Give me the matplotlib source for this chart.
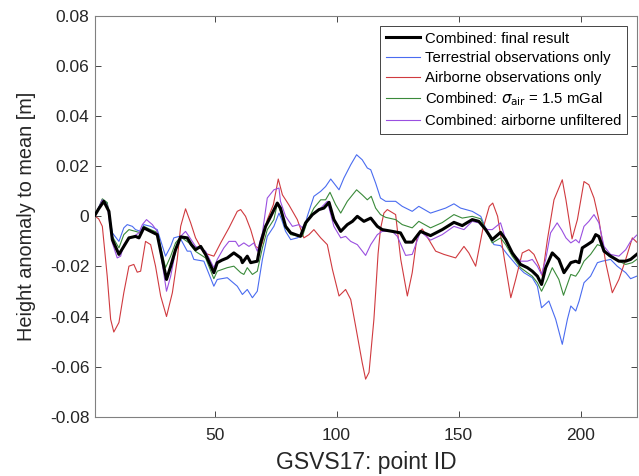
import matplotlib
matplotlib.use('Agg')
import matplotlib.pyplot as plt
import numpy as np

# height anomalies, in mm
final_x = [1, 2.5, 4.6, 6.7, 8.1, 10.8, 12.8, 14.9, 17.6, 19,
           21, 23.8, 26.5, 28.6, 30.3, 32, 34, 36.1, 38.8, 40.5,
           42.2, 44.3, 46.3, 49.7, 51.1, 53, 55.2, 57.9, 60.7, 61.4,
           63.4, 64.8, 67.5, 68.9, 70.9, 73, 75.7, 77, 79.1, 81.2,
           83.2, 85.2, 87.3, 90.1, 92.8, 94.8, 96.9, 98.9, 101.7, 104.4,
           106.5, 108.5, 111.2, 114, 116.7, 118.7, 122.8, 126.2, 128.3, 131,
           134.4, 138.5, 143.3, 148.1, 151.5, 155.6, 158.3, 161.1, 163.8, 167.2,
           169.3, 172, 175.4, 178.2, 180.2, 182.3, 184, 185.7, 188.4, 191.1,
           193.2, 196, 198, 199.4, 200.7, 202.8, 204.8, 206.2, 207.5, 209.6,
           212.3, 215.7, 218.5, 220.5, 223]
final_mm = [0.5, 3, 6, 2, -9.3, -15.2, -12, -8.6, -8, -8.6,
            -4.6, -6, -7.3, -17.2, -25.2, -20, -13.3, -8.2, -8.6, -11.3,
            -13.3, -12, -15.2, -22.5, -18.5, -17.5, -16.6, -14.6, -16.6, -18.5,
            -15.9, -18.5, -17.9, -10.6, -4, 0, 5.3, 3.3, -4, -6.6,
            -7.3, -8, -2.6, 0.7, 2.7, 3.3, 5.6, -1.3, -6, -3.3,
            -2, 0, -2, -0.7, -4, -5.3, -6, -6.6, -10.3, -10.3,
            -6, -7.7, -5.3, -2.4, -3.7, -1.3, -2, -5.3, -9.3, -6.4,
            -9.3, -14.6, -19.2, -20.5, -21.9, -23.9, -27.2, -20.5, -14.6, -17.2,
            -22.5, -18.5, -17.9, -18.5, -12.6, -11.3, -10, -7.3, -8, -13.9,
            -15.9, -17.9, -17.9, -17.2, -15.2]

terr_x = [1, 2.5, 4, 6, 8.1, 10.8, 12.8, 14.2, 16.3, 17.6,
          19.7, 21, 23.8, 26.5, 29.9, 32, 33.3, 35.5, 38.8, 40.2,
          41.5, 45.6, 49.7, 51.1, 55.2, 59.3, 61.4, 63.4, 65.5, 67.5,
          69.6, 71.6, 74.3, 76.4, 77.5, 79.1, 81.2, 83.9, 86, 88,
          90.7, 93.5, 95.5, 97.6, 101, 103, 105.8, 108.2, 110.5, 112.6,
          114, 116, 118, 120.1, 124.2, 126.9, 131, 133.7, 138.5, 144.7,
          148.1, 150.8, 155.6, 159.1, 161.9, 164.5, 167.2, 170, 174.1, 176.8,
          180.2, 182.3, 184, 187, 189.8, 192.5, 194.6, 196, 198, 199.4,
          201.4, 204.1, 206.9, 208.9, 212.3, 215, 218.5, 220.5, 223]
terr_mm = [0.5, 3.5, 6.6, 5.3, -6.6, -10, -4.6, -3.3, -4, -5.3,
           -6, -3.3, -4, -5.3, -15.9, -12, -8.6, -8, -13.9, -13.9,
           -17.2, -17.9, -27.9, -25.2, -24.5, -27.9, -31.2, -29.2, -32.5, -29.9,
           -17.2, -8, -4, 1.3, -1.3, -6, -9.3, -8.6, -7.3, 0,
           8, 10, 11.9, 14.9, 10.6, 15.3, 20.6, 24.6, 22.6, 19.3,
           18.6, 13.3, 7.3, 6, 6, 4, 2, 4, 1.3, 3.3,
           5, 3.3, 2, 0, -6.6, -11.3, -11.7, -15.2, -19.9, -22.5,
           -24.5, -27.9, -36.5, -33.8, -41.1, -51.1, -41.1, -35.8, -37.8, -33.8,
           -26.5, -23.9, -18.5, -17.9, -17.2, -19.9, -22.5, -24.9, -23.9]

air_x = [1, 2.5, 4, 6, 7.4, 8.7, 10.8, 12.8, 14.9, 16.9,
         18.3, 19.7, 21.7, 23.8, 25.8, 27.9, 30.3, 32.7, 34.7, 36.1,
         38.1, 40.2, 42.2, 45.6, 49.7, 52.5, 55.9, 59.3, 60.7, 62.7,
         64.8, 66.8, 68.5, 69.6, 71.6, 74.1, 76.1, 77.8, 80.5, 83.9,
         86.6, 88.7, 90.7, 93.5, 96.2, 98.3, 101, 103.7, 105.8, 107.8,
         110.5, 111.9, 113.3, 115.3, 116, 117, 118, 119.4, 120.8, 124.2,
         126.3, 129, 131, 133.1, 135.1, 137.8, 140.6, 144, 148.8, 152.2,
         154.2, 157, 159.9, 162.6, 164, 166, 168.8, 171.4, 173.4, 176.1,
         178.8, 180.9, 183, 184.3, 186.4, 189.1, 192.5, 194, 196.5, 198.7,
         201.4, 203.4, 205.5, 207.5, 210.3, 213, 215.7, 218.5, 221.2, 223]
air_mm = [0, -1, -4, -23.9, -41.1, -46.2, -42.4, -30.5, -19.9, -19.2,
          -22.3, -21.9, -10, -11.3, -19.9, -31.8, -40, -30.5, -17.2, -4,
          3, -2.6, -8.6, -14.6, -15.9, -10.6, -4.6, 2, 2.7, 0,
          -5.3, -12, -13, -10.6, -1.3, 4.7, 14.9, 8.6, 4.5, -1.3,
          -8.6, -7.3, -5.3, -8.6, -11.3, -21.2, -31.8, -29.2, -33.2, -43.8,
          -58.4, -65, -62.3, -41.1, -30.5, -15, -5, 1.3, 2.7, 0.7,
          -17.2, -31.8, -22.5, -7.3, -5, -9.3, -13.9, -15.2, -16.6, -12,
          -14.6, -19.9, -5.3, 4, 5.3, 0, -17.2, -32.5, -25.2, -14.6,
          -13.3, -15.2, -19.9, -23.9, -9.3, 6.6, 14.6, 6.6, -9, -1.3,
          13.9, 12.6, 7.3, -1.3, -18.5, -30.5, -25.2, -17.2, -8.6, -10.3]

sig_x = [1, 2.5, 4, 6, 8.1, 10.8, 12.8, 14.9, 17.6, 19.7,
         21, 23.8, 26.5, 29.9, 32, 34, 36.1, 39.5, 42.2, 46.3,
         49.7, 51.1, 55.2, 57.9, 60.7, 62, 63.4, 65.5, 67.5, 69.6,
         71.6, 74.3, 75.7, 77, 79.1, 81.2, 84.6, 86, 88, 90.7,
         93.5, 95.5, 97.3, 99.6, 101.7, 104.4, 108.2, 110.5, 112.6, 114.2,
         116, 118, 120.1, 124.2, 126.9, 131, 133.7, 138.5, 143.3, 148.1,
         151.5, 155.6, 159.1, 161.1, 163.8, 167.2, 169.3, 172, 175.4, 178.2,
         180.2, 182.3, 184, 186.4, 188.4, 191.1, 193, 196, 198, 199.4,
         201.4, 204.1, 206.9, 208.9, 211.6, 215.7, 218.5, 221.2, 223]
sig_mm = [0.5, 3.5, 7, 5.5, -8, -12.6, -7.3, -5.3, -6, -6.6,
          -4, -5.3, -6.4, -20.5, -15.9, -10.6, -8.2, -10.6, -14, -16.6,
          -24.9, -21.9, -20.5, -19.9, -22.5, -23.2, -20.5, -23.2, -21.9, -12.6,
          -5.3, -1.3, 5, 2, -4.6, -7.3, -8, -8, -2, 3.3,
          6.6, 6.6, 9.6, 4.7, 1.3, 6, 10.6, 8.6, 6.6, 8,
          3.3, 0.7, -0.4, -1.3, -3.3, -4.6, -2, -4.6, -2.5, 0.7,
          -0.7, 0, -1, -5.3, -10.6, -8.6, -11.3, -15.9, -20.5, -22.5,
          -23.9, -26.5, -29.9, -25.2, -20.5, -25.2, -31.5, -23.2, -23.9, -21.9,
          -17.9, -15.2, -11.3, -12, -15.9, -17.9, -19.2, -18.5, -17.2]

unf_x = [1, 2.5, 4, 6, 8.1, 10.1, 11.5, 12.8, 14.9, 16.9,
         19, 20.4, 22.1, 24.5, 26.5, 28.6, 30.3, 32, 34, 36.1,
         38.1, 39.5, 42.2, 46.3, 49.7, 51.1, 53.8, 55.9, 58.6, 59.9,
         62, 64.1, 66.1, 67.5, 69.6, 71.6, 74.3, 76.4, 77, 79.1,
         81.9, 84.6, 86, 88, 90.7, 93.5, 96.2, 98.9, 101.7, 103.7,
         105.8, 108.5, 111.9, 114, 116.7, 118.7, 122.8, 124.9, 128.3, 131,
         134.4, 138.5, 143.3, 148.1, 152.2, 155.6, 158.3, 161.9, 163.8, 167.2,
         169.3, 172, 175.4, 178.2, 180.2, 182.3, 184, 185.7, 187.7, 190.4,
         192.3, 194, 196, 198, 199.4, 201.4, 203.4, 205.5, 207.5, 209.6,
         212.3, 215.7, 218.5, 220.5, 223]
unf_mm = [0.5, 3.5, 6.6, 4.5, -10.6, -16.6, -15.9, -11.3, -8.6, -8,
          -6.6, -3.3, -1.3, -3.3, -6, -19.2, -29.9, -23.9, -13.9, -8,
          -6, -8, -12, -13.9, -20.5, -17.2, -12.6, -10, -10, -12,
          -10.6, -12, -10.6, -13.9, -6.6, 7.3, 10.6, 11.3, 6, 0,
          -4, -3.3, -4.6, -1.3, 1.3, 3.3, 6, -4, -8.6, -8,
          -10, -11.3, -15.6, -11.3, -7.3, -6, -6, -8, -15.6, -15.2,
          -6, -9.5, -7.3, -4, -5.3, -2, -2.6, -5.3, -5.3, -2.6,
          -9.3, -14.6, -17.9, -17.9, -17.2, -19.9, -23.2, -17.2, -6.6, -2.6,
          -5.5, -8.6, -10.6, -9.3, -10.6, -4, -2, 0.7, -2.6, -12,
          -15.2, -15.9, -13.3, -10, -7.5]

yticks = [-0.08, -0.06, -0.04, -0.02, 0, 0.02, 0.04, 0.06, 0.08]
ytick_labels = ['-0.08', '-0.06', '-0.04', '-0.02', '0', '0.02', '0.04', '0.06', '0.08']
xticks = [50, 100, 150, 200]

plt.rcParams['font.family'] = ['Liberation Sans', 'DejaVu Sans']
plt.rcParams['axes.unicode_minus'] = False

fig = plt.figure(figsize=(6.39, 4.76), dpi=100)
ax = fig.add_axes([0.1487, 0.1246, 0.9964 - 0.1487, 0.9664 - 0.1246])

thin = 0.8
l_terr, = ax.plot(terr_x, np.array(terr_mm) / 1000, color='#4a6cf0', lw=thin)
l_air, = ax.plot(air_x, np.array(air_mm) / 1000, color='#d03a3f', lw=thin)
l_sig, = ax.plot(sig_x, np.array(sig_mm) / 1000, color='#3a8a3a', lw=thin)
l_unf, = ax.plot(unf_x, np.array(unf_mm) / 1000, color='#9a4fe0', lw=thin)
l_fin, = ax.plot(final_x, np.array(final_mm) / 1000, color='black', lw=2.2, zorder=5)

ax.set_xlim(1, 223)
ax.set_ylim(-0.08, 0.08)
ax.set_xticks(xticks)
ax.set_yticks(yticks)
ax.set_yticklabels(ytick_labels)
ax.tick_params(direction='in', length=4, width=0.6, colors='#262626',
               labelsize=12.5, top=True, right=True)
ax.tick_params(axis='y', pad=4)
ax.tick_params(axis='x', pad=8)
for sp in ax.spines.values():
    sp.set_color('#808080')
    sp.set_linewidth(0.8)

ax.set_xlabel('GSVS17: point ID', fontsize=16.5, color='#262626', labelpad=6)
ax.set_ylabel('Height anomaly to mean [m]', fontsize=14.3, color='#262626', labelpad=10)

leg = ax.legend([l_fin, l_terr, l_air, l_sig, l_unf],
                ['Combined: final result', 'Terrestrial observations only',
                 'Airborne observations only', r'Combined: $\sigma_{\mathrm{air}}$ = 1.5 mGal',
                 'Combined: airborne unfiltered'],
                loc='upper right', fontsize=10.7, fancybox=False, framealpha=1,
                edgecolor='#262626', handlelength=2.3, handletextpad=0.3,
                borderpad=0.4, labelspacing=0.38, borderaxespad=0.65)
leg.get_frame().set_linewidth(0.6)

fig.savefig('out.png', dpi=100)
